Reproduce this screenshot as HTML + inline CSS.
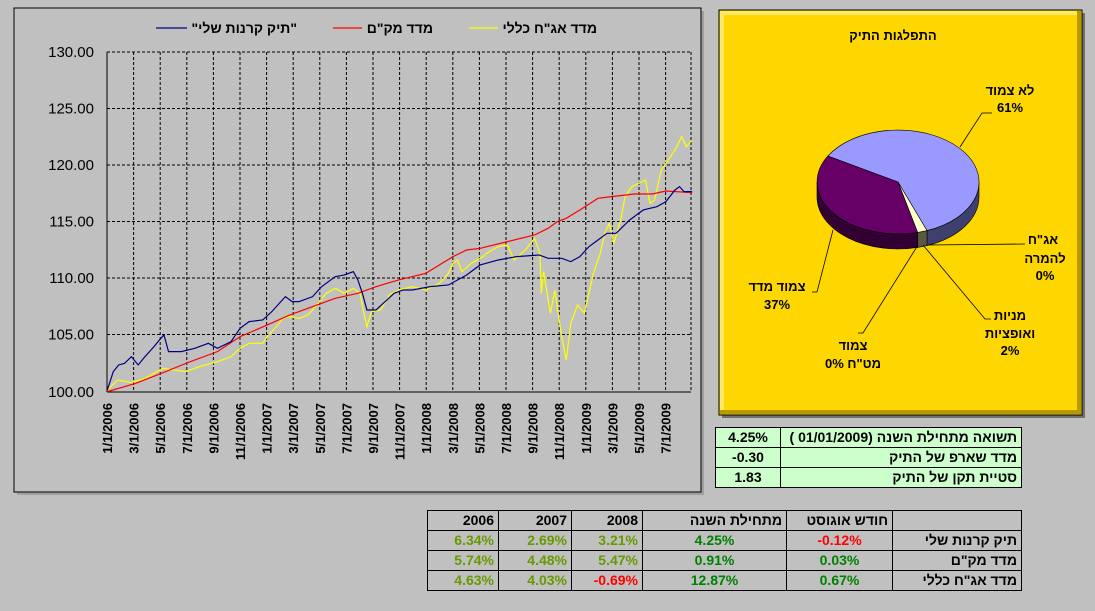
<!DOCTYPE html>
<html><head><meta charset="utf-8"><style>
body{margin:0;width:1095px;height:611px;background:#c0c0c0;overflow:hidden;font-family:"Liberation Sans",Arial,sans-serif;}
svg{position:absolute;left:0;top:0}
table{position:absolute;border-collapse:collapse;font-family:"Liberation Sans","Noto Sans CJK SC",sans-serif;font-weight:bold;font-size:14px;direction:rtl}
td{border:1.5px solid #000;padding:0 4px;height:19px;line-height:19px;white-space:nowrap}
.n{direction:ltr;unicode-bidi:isolate}
.g{color:#008000}.o{color:#669900}.r{color:#ff0000}
</style></head><body>
<svg width="1095" height="611" viewBox="0 0 1095 611" font-family="Liberation Sans, Noto Sans CJK SC, sans-serif">
<rect x="17" y="11" width="687" height="484" fill="#8a8a8a" opacity="0.6"/>
<rect x="14" y="8" width="687" height="484" fill="#c0c0c0" stroke="#000" stroke-width="1"/>
<g font-weight="bold" font-size="14" direction="rtl">
<line x1="156" y1="28" x2="187" y2="28" stroke="#000080" stroke-width="1.3"/>
<text x="297" y="33" text-anchor="start">"תיק קרנות שלי"</text>
<line x1="333" y1="28" x2="362" y2="28" stroke="#ff0000" stroke-width="1.3"/>
<text x="433" y="33" text-anchor="start">מדד מק"ם</text>
<line x1="469" y1="28" x2="498" y2="28" stroke="#ffff00" stroke-width="1.3"/>
<text x="597" y="33" text-anchor="start">מדד אג"ח כללי</text>
</g>
<g stroke="#000" stroke-width="1" stroke-dasharray="3,2">
<line x1="107" y1="108.5" x2="691" y2="108.5"/><line x1="107" y1="165" x2="691" y2="165"/>
<line x1="107" y1="221.5" x2="691" y2="221.5"/><line x1="107" y1="278" x2="691" y2="278"/>
<line x1="107" y1="334.5" x2="691" y2="334.5"/><line x1="107" y1="52" x2="691" y2="52"/>
<g id="vg"></g>
</g>
<line x1="107" y1="52" x2="107" y2="392" stroke="#000"/>
<line x1="107" y1="392" x2="691" y2="392" stroke="#000"/>
<g font-size="15" text-anchor="end">
<text x="94" y="57">130.00</text><text x="94" y="113.5">125.00</text><text x="94" y="170">120.00</text>
<text x="94" y="226.5">115.00</text><text x="94" y="283">110.00</text><text x="94" y="339.5">105.00</text><text x="94" y="397">100.00</text>
</g>
<g id="xl" font-size="13" font-weight="bold" text-anchor="end"></g>
<g transform="matrix(0.453,0,0,0.3333,0,0)" fill="none" stroke-width="1.2">
<polyline vector-effect="non-scaling-stroke" stroke="#ffff00" points="237,1170 260,1140 290,1148 320,1135 360,1105 380,1110 410,1115 440,1100 480,1085 510,1070 530,1045 550,1030 580,1030 590,1010 610,980 625,955 640,950 660,955 680,945 700,915 720,880 740,865 760,880 780,865 795,880 800,920 810,980 820,935 840,930 860,885 880,870 910,860 940,870 970,850 990,820 1000,790 1010,780 1020,815 1040,790 1060,775 1080,755 1100,740 1120,735 1135,780 1160,750 1180,715 1192,760 1195,880 1200,815 1215,940 1225,870 1230,920 1240,1010 1250,1080 1260,970 1275,915 1290,940 1300,880 1310,820 1325,760 1335,700 1345,670 1355,730 1370,660 1380,590 1395,560 1425,540 1435,610 1445,600 1460,510 1470,490 1490,450 1505,410 1515,440 1528,420"/>
<polyline vector-effect="non-scaling-stroke" stroke="#ff0000" points="237,1175 300,1150 360,1118 420,1085 480,1055 530,1010 590,975 640,945 700,915 740,895 790,880 830,860 880,840 940,820 1000,770 1030,750 1060,745 1120,725 1180,705 1210,685 1230,665 1250,655 1280,630 1320,595 1350,590 1400,582 1440,582 1470,573 1528,578"/>
<polyline vector-effect="non-scaling-stroke" stroke="#000080" points="237,1170 250,1115 262,1095 275,1090 290,1070 305,1095 320,1070 340,1040 355,1015 362,1005 372,1055 400,1055 430,1045 460,1030 480,1045 510,1025 530,985 550,965 580,960 600,935 630,890 645,905 660,905 690,890 710,860 740,830 760,825 780,815 790,840 800,880 810,930 830,930 850,905 870,880 890,870 910,870 950,860 990,855 1030,825 1060,795 1100,780 1140,770 1190,765 1210,775 1240,775 1260,785 1280,770 1300,740 1320,720 1340,700 1360,700 1390,660 1420,630 1450,620 1470,605 1490,570 1500,560 1510,575 1528,575"/>
</g>
<rect x="722" y="13" width="363" height="405" fill="#707070"/>
<rect x="719" y="10" width="363" height="405" fill="#ffd700" stroke="#000"/>
<rect x="720" y="11" width="361" height="4" fill="#ffe866"/>
<rect x="720" y="11" width="4" height="403" fill="#ffe866"/>
<rect x="720" y="410" width="361" height="4" fill="#b89a00"/>
<rect x="1077" y="11" width="4" height="403" fill="#b89a00"/>
<text x="893" y="40" font-size="13" font-weight="bold" text-anchor="middle">התפלגות התיק</text>
<path d="M979,182 A81,52 0 0,1 927,230.6 L927,245.6 A81,52 0 0,0 979,197 Z" fill="#40406e" stroke="#000" stroke-width="0.6"/>
<path d="M927,230.6 A81,52 0 0,1 917.6,232.4 L917.6,247.4 A81,52 0 0,0 927,245.6 Z" fill="#5a5a40" stroke="#000" stroke-width="0.6"/>
<path d="M917.6,232.4 A81,52 0 0,1 817,182 L817,197 A81,52 0 0,0 917.6,247.4 Z" fill="#330033" stroke="#000" stroke-width="0.6"/>
<path d="M898,182 L827.9,156 A81,52 0 1,1 927,230.6 Z" fill="#9999ff" stroke="#000" stroke-width="0.6"/>
<path d="M898,182 L927,230.6 A81,52 0 0,1 917.6,232.4 Z" fill="#ffffcc" stroke="#000" stroke-width="0.6"/>
<path d="M898,182 L917.6,232.4 A81,52 0 0,1 827.9,156 Z" fill="#660066" stroke="#000" stroke-width="0.6"/>
<g stroke="#000" stroke-width="0.8" fill="none">
<polyline points="992,113 982,113 960,147"/>
<polyline points="1025,244 928,245"/>
<polyline points="991,319 985,319 923,245"/>
<polyline points="858,333 863,333 918,245"/>
<polyline points="812,292 817,292 833,230"/>
</g>
<g font-size="13" font-weight="bold" text-anchor="middle">
<text x="1010" y="95">לא צמוד</text><text x="1010" y="112">61%</text>
<text x="1043" y="244">אג"ח</text><text x="1045" y="263">להמרה</text><text x="1045" y="280">0%</text>
<text x="1010" y="320">מניות</text><text x="1010" y="338">ואופציות</text><text x="1010" y="355">2%</text>
<text x="853" y="350">צמוד</text><text x="853" y="368" direction="rtl">מט"ח 0%</text>
<text x="777" y="291">צמוד מדד</text><text x="777" y="309">37%</text>
</g>
</svg>
<table style="left:715px;top:427px;width:307px;background:#ccffcc">
<tr><td style="text-align:right">תשואה מתחילת השנה (01/01/2009 )</td><td class="n" style="text-align:center;width:56px">4.25%</td></tr>
<tr><td style="text-align:right">מדד שארפ של התיק</td><td class="n" style="text-align:center">-0.30</td></tr>
<tr><td style="text-align:right">סטיית תקן של התיק</td><td class="n" style="text-align:center">1.83</td></tr>
</table>
<table style="left:427px;top:510px;width:595px">
<tr><td style="width:120px"></td><td style="width:97px;text-align:right">חודש אוגוסט</td><td style="width:135px;text-align:right">מתחילת השנה</td><td style="width:62px;text-align:right">2008</td><td style="width:64px;text-align:right">2007</td><td style="text-align:right">2006</td></tr>
<tr><td style="text-align:right">תיק קרנות שלי</td><td class="n r" style="text-align:center">-0.12%</td><td class="n g" style="text-align:center">4.25%</td><td class="n o" style="text-align:right">3.21%</td><td class="n o" style="text-align:right">2.69%</td><td class="n o" style="text-align:right">6.34%</td></tr>
<tr><td style="text-align:right">מדד מק"ם</td><td class="n g" style="text-align:center">0.03%</td><td class="n g" style="text-align:center">0.91%</td><td class="n o" style="text-align:right">5.47%</td><td class="n o" style="text-align:right">4.48%</td><td class="n o" style="text-align:right">5.74%</td></tr>
<tr><td style="text-align:right">מדד אג"ח כללי</td><td class="n g" style="text-align:center">0.67%</td><td class="n g" style="text-align:center">12.87%</td><td class="n r" style="text-align:right">-0.69%</td><td class="n o" style="text-align:right">4.03%</td><td class="n o" style="text-align:right">4.63%</td></tr>
</table>
<script>
var ns="http://www.w3.org/2000/svg",vg=document.getElementById("vg"),xl=document.getElementById("xl");
var labs=[];for(var y=2006;y<=2009;y++)for(var m=1;m<=11;m+=2){if(y==2009&&m>7)break;labs.push(m+"/1/"+y);}
labs.forEach(function(t,i){var x=107+i*26.6;
 if(i>0){var l=document.createElementNS(ns,"line");l.setAttribute("x1",x);l.setAttribute("x2",x);l.setAttribute("y1",52);l.setAttribute("y2",392);vg.appendChild(l);}
 var tx=document.createElementNS(ns,"text");tx.setAttribute("transform","translate("+(x+5)+",403) rotate(-90)");tx.textContent=t;xl.appendChild(tx);});
var l=document.createElementNS(ns,"line");l.setAttribute("x1",691);l.setAttribute("x2",691);l.setAttribute("y1",52);l.setAttribute("y2",392);vg.appendChild(l);
</script>
</body></html>
